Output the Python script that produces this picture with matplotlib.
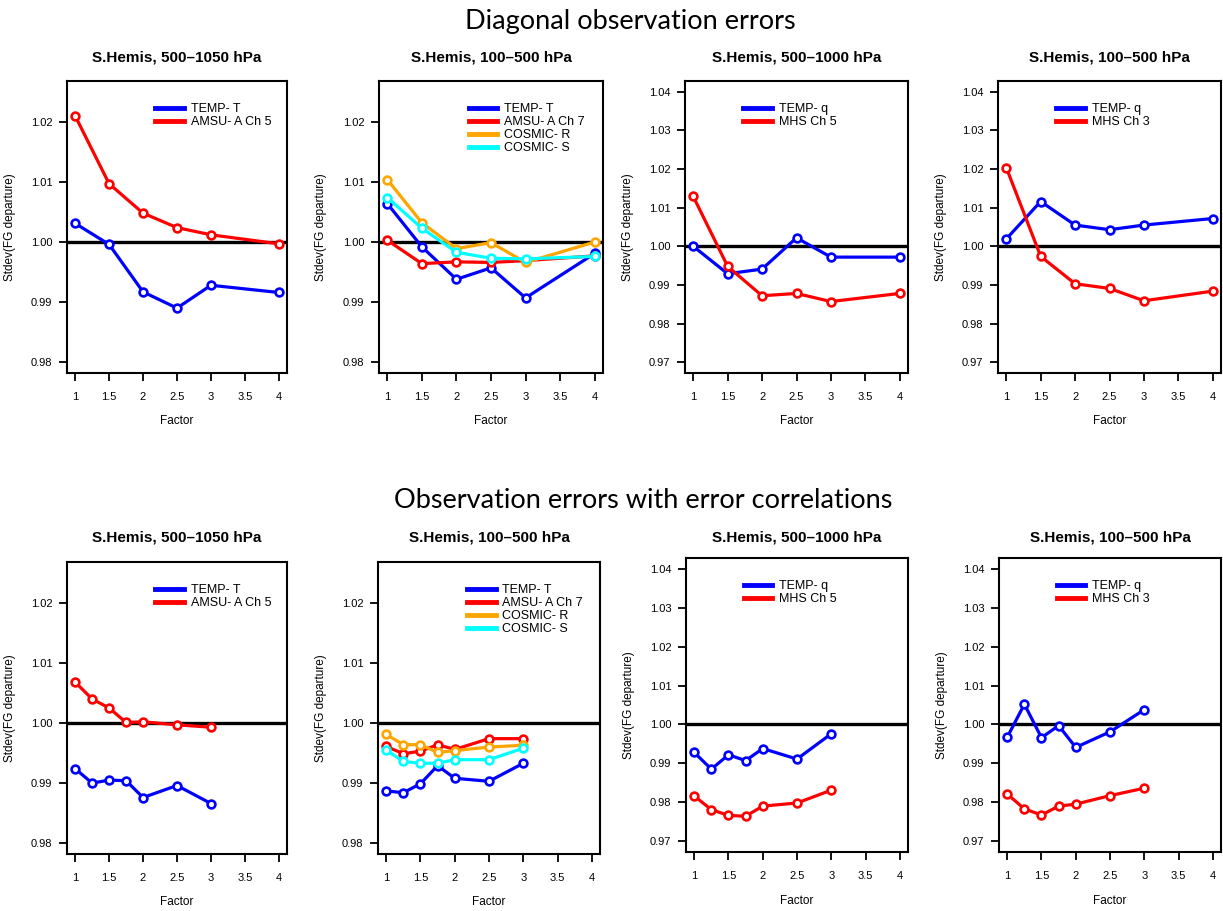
import matplotlib
matplotlib.use("Agg")
import matplotlib.pyplot as plt
from matplotlib.lines import Line2D

plt.rcParams['font.family'] = ['Liberation Sans', 'DejaVu Sans']

W, H = 1223, 911

# ---------------- data ----------------
x_diag = [1, 1.5, 2, 2.5, 3, 4]
x_corr = [1, 1.25, 1.5, 1.75, 2, 2.5, 3]

# Top row: diagonal observation errors
p1_temp_t = [1.0031, 0.9996, 0.9917, 0.9890, 0.9928, 0.9916]
p1_amsu5 = [1.0210, 1.0097, 1.0048, 1.0024, 1.0012, 0.9997]

p2_temp_t = [1.0064, 0.9992, 0.9938, 0.9957, 0.9907, 0.9981]
p2_amsu7 = [1.0003, 0.9964, 0.9967, 0.9966, 0.9969, 0.9977]
p2_cosmic_r = [1.0104, 1.0032, 0.9989, 0.9999, 0.9966, 1.0000]
p2_cosmic_s = [1.0074, 1.0023, 0.9983, 0.9973, 0.9972, 0.9976]

p3_temp_q = [1.0000, 0.9929, 0.9941, 1.0022, 0.9972, 0.9972]
p3_mhs5 = [1.0129, 0.9948, 0.9872, 0.9878, 0.9857, 0.9878]

p4_temp_q = [1.0019, 1.0116, 1.0055, 1.0043, 1.0055, 1.0072]
p4_mhs3 = [1.0204, 0.9974, 0.9903, 0.9891, 0.9859, 0.9884]

# Bottom row: observation errors with error correlations
p5_temp_t = [0.9924, 0.9900, 0.9905, 0.9904, 0.9876, 0.9896, 0.9866]
p5_amsu5 = [1.0068, 1.0040, 1.0025, 1.0001, 1.0002, 0.9997, 0.9993]

p6_temp_t = [0.9887, 0.9884, 0.9899, 0.9929, 0.9908, 0.9903, 0.9933]
p6_amsu7 = [0.9961, 0.9949, 0.9953, 0.9964, 0.9956, 0.9974, 0.9974]
p6_cosmic_r = [0.9981, 0.9964, 0.9964, 0.9951, 0.9954, 0.9960, 0.9963]
p6_cosmic_s = [0.9955, 0.9936, 0.9933, 0.9933, 0.9939, 0.9939, 0.9958]

p7_temp_q = [0.9928, 0.9885, 0.9922, 0.9907, 0.9938, 0.9911, 0.9976]
p7_mhs5 = [0.9816, 0.9781, 0.9766, 0.9764, 0.9790, 0.9798, 0.9831]

p8_temp_q = [0.9967, 1.0052, 0.9966, 0.9997, 0.9941, 0.9981, 1.0038]
p8_mhs3 = [0.9821, 0.9783, 0.9767, 0.9790, 0.9795, 0.9817, 0.9836]

x_ticks = [1, 1.5, 2, 2.5, 3, 3.5, 4]
x_ticklabels = ["1", "1.5", "2", "2.5", "3", "3.5", "4"]
yticks_T = [0.98, 0.99, 1.00, 1.01, 1.02]
yticks_q = [0.97, 0.98, 0.99, 1.00, 1.01, 1.02, 1.03, 1.04]

titles = ["S.Hemis, 500\u20131050 hPa", "S.Hemis, 100\u2013500 hPa",
          "S.Hemis, 500\u20131000 hPa", "S.Hemis, 100\u2013500 hPa"]
row_titles = ["Diagonal observation errors", "Observation errors with error correlations"]

C_BLUE, C_RED, C_ORANGE, C_CYAN = "#0000FF", "#FF0000", "#FFA500", "#00FFFF"

fig = plt.figure(figsize=(W / 100, H / 100), dpi=100)


def px_axes(l, t, r, b):
    return fig.add_axes([l / W, 1 - b / H, (r - l) / W, (b - t) / H])


def style(ax, title, yticks, ylo, yhi, series, xs, leg_x, tpad):
    rng = yhi - ylo
    ax.set_ylim(ylo - 0.04 * rng, yhi + 0.04 * rng)
    ax.set_xlim(1 - 0.04 * 3, 4 + 0.04 * 3)
    ax.axhline(1.0, color="black", lw=2.4, zorder=1)
    for vals, col, lab in series:
        ax.plot(xs, vals, color=col, lw=2.3, marker="o", ms=5.6, mew=1.9,
                mfc="white", mec=col, zorder=3)
    ax.set_xticks(x_ticks)
    ax.set_xticklabels(x_ticklabels)
    ax.set_yticks(yticks)
    ax.set_yticklabels(["%.2f" % v for v in yticks])
    ax.tick_params(direction="out", length=5.5, width=1.3, labelsize=8)
    ax.tick_params(axis="x", pad=8)
    ax.tick_params(axis="y", pad=5)
    for s in ax.spines.values():
        s.set_linewidth(1.5)
    ax.set_title(title, fontsize=11, fontweight="bold", pad=tpad)
    ax.set_xlabel("Factor", fontsize=8.5)
    ax.set_ylabel("Stdev(FG departure)", fontsize=8.5)
    ax.yaxis.set_label_coords(-0.23, 0.5)
    ax.xaxis.set_label_coords(0.5, -0.145)
    handles = [Line2D([], [], color=c, lw=3.5) for _, c, _ in series]
    labels = [lab for _, _, lab in series]
    ax.legend(handles, labels, loc="upper left", bbox_to_anchor=(leg_x, 0.925),
              frameon=False, fontsize=9, handlelength=2.3, handletextpad=0.55,
              labelspacing=0.08, borderpad=0, borderaxespad=0)


# top row
ax1 = px_axes(67, 81, 287, 373)
style(ax1, titles[0], yticks_T, 0.98, 1.025,
      [(p1_temp_t, C_BLUE, "TEMP- T"), (p1_amsu5, C_RED, "AMSU- A Ch 5")], x_diag, 0.40, 14)
ax2 = px_axes(379, 81, 603, 373)
style(ax2, titles[1], yticks_T, 0.98, 1.025,
      [(p2_temp_t, C_BLUE, "TEMP- T"), (p2_amsu7, C_RED, "AMSU- A Ch 7"),
       (p2_cosmic_r, C_ORANGE, "COSMIC- R"), (p2_cosmic_s, C_CYAN, "COSMIC- S")], x_diag, 0.40, 14)
ax3 = px_axes(685, 81, 908, 373)
style(ax3, titles[2], yticks_q, 0.97, 1.04,
      [(p3_temp_q, C_BLUE, "TEMP- q"), (p3_mhs5, C_RED, "MHS Ch 5")], x_diag, 0.26, 14)
ax4 = px_axes(998, 81, 1221, 373)
style(ax4, titles[3], yticks_q, 0.97, 1.04,
      [(p4_temp_q, C_BLUE, "TEMP- q"), (p4_mhs3, C_RED, "MHS Ch 3")], x_diag, 0.26, 14)

# bottom row
ax5 = px_axes(67, 562, 287, 854)
style(ax5, titles[0], yticks_T, 0.98, 1.025,
      [(p5_temp_t, C_BLUE, "TEMP- T"), (p5_amsu5, C_RED, "AMSU- A Ch 5")], x_corr, 0.40, 15)
ax6 = px_axes(378, 562, 600, 854)
style(ax6, titles[1], yticks_T, 0.98, 1.025,
      [(p6_temp_t, C_BLUE, "TEMP- T"), (p6_amsu7, C_RED, "AMSU- A Ch 7"),
       (p6_cosmic_r, C_ORANGE, "COSMIC- R"), (p6_cosmic_s, C_CYAN, "COSMIC- S")], x_corr, 0.40, 15)
ax7 = px_axes(686, 558, 908, 852)
style(ax7, titles[2], yticks_q, 0.97, 1.04,
      [(p7_temp_q, C_BLUE, "TEMP- q"), (p7_mhs5, C_RED, "MHS Ch 5")], x_corr, 0.26, 12)
ax8 = px_axes(999, 558, 1221, 852)
style(ax8, titles[3], yticks_q, 0.97, 1.04,
      [(p8_temp_q, C_BLUE, "TEMP- q"), (p8_mhs3, C_RED, "MHS Ch 3")], x_corr, 0.26, 12)

fig.text(630 / W, 1 - 21 / H, row_titles[0], ha="center", va="center",
         fontsize=19.5, family=["Lato", "DejaVu Sans"])
fig.text(643 / W, 1 - 500 / H, row_titles[1], ha="center", va="center",
         fontsize=19.5, family=["Lato", "DejaVu Sans"])

fig.savefig("out.png", dpi=100)
